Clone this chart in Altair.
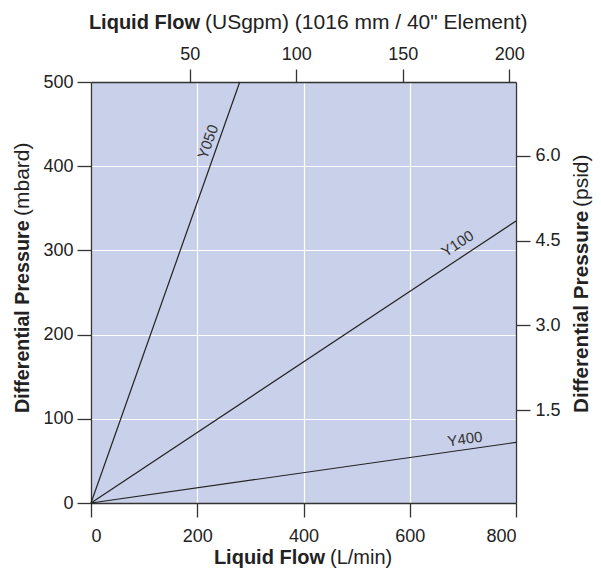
import altair as alt
import pandas as pd

# ---- data ----
series = ["Y050", "Y050", "Y100", "Y100", "Y400", "Y400"]
flow_lmin = [0, 280, 0, 800, 0, 800]
dp_mbar = [0, 500, 0, 335, 0, 72]

label_names = ["Y050", "Y100", "Y400"]
label_x = [220, 690, 704]
label_y = [429, 308, 76]
label_angle = [289.5, 326.4, 351.9]

gpm_ticks = [50, 100, 150, 200]
psid_ticks = [1.5, 3.0, 4.5, 6.0]

FONT = "Liberation Sans"
AX = "#333333"
W, H = 425, 421

lines_df = pd.DataFrame({"series": series, "flow": flow_lmin, "dp": dp_mbar})
labels_df = pd.DataFrame({"name": label_names, "flow": label_x, "dp": label_y, "ang": label_angle})
sec_df = pd.DataFrame({"gpm": gpm_ticks, "psid": psid_ticks})

xs = alt.Scale(domain=[0, 800], nice=False, zero=False)
ys = alt.Scale(domain=[0, 500], nice=False, zero=False)

x_axis = alt.Axis(values=[0, 200, 400, 600, 800], title=None, grid=True, gridColor="white",
                  gridWidth=1.2, tickSize=14, labelPadding=10, orient="bottom")
y_axis = alt.Axis(values=[0, 100, 200, 300, 400, 500], title=None, grid=True, gridColor="white",
                  gridWidth=1.2, tickSize=14, labelPadding=4, orient="left")

lines = alt.Chart(lines_df).mark_line(color="#222222", strokeWidth=1.2).encode(
    x=alt.X("flow:Q", scale=xs, axis=x_axis),
    y=alt.Y("dp:Q", scale=ys, axis=y_axis),
    detail="series:N",
)

labels = alt.Chart(labels_df).mark_text(font=FONT, fontSize=15, color="#333333",
                                        align="center", baseline="middle").encode(
    x=alt.X("flow:Q", scale=xs),
    y=alt.Y("dp:Q", scale=ys),
    text="name:N",
    angle=alt.Angle("ang:Q", scale=None),
)


def txt(s, x, y, bold, align, angle=0, size=20):
    return alt.Chart(pd.DataFrame({"t": [s]})).mark_text(
        font=FONT, fontSize=size, fontWeight="bold" if bold else "normal",
        color="#222222", align=align, baseline="middle", angle=angle,
    ).encode(x=alt.value(x), y=alt.value(y), text="t:N")


titles = [
    txt("Liquid Flow", 109, -59, True, "right", 0, 20),
    txt("(USgpm) (1016 mm / 40\" Element)", 114, -59, False, "left", 0, 21),
    txt("Liquid Flow", 234, 476, True, "right"),
    txt("(L/min)", 239, 476, False, "left"),
    # vertical titles read upward from the bottom
    txt("Differential Pressure", -68, 331, True, "left", 270, 19.7),
    txt("(mbard)", -68, 134, False, "left", 270, 21),
    txt("Differential Pressure", 491, 331, True, "left", 270, 20.7),
    txt("(psid)", 491, 125, False, "left", 270, 21),
]

main = alt.layer(lines, labels, *titles)

secondary = alt.Chart(sec_df).mark_point(opacity=0).encode(
    x=alt.X("gpm:Q", scale=alt.Scale(domain=[3.57, 203.2], nice=False, zero=False),
            axis=alt.Axis(orient="top", values=gpm_ticks, title=None, grid=False,
                          tickSize=13, labelPadding=6)),
    y=alt.Y("psid:Q", scale=alt.Scale(domain=[-0.146, 7.31], nice=False, zero=False),
            axis=alt.Axis(orient="right", values=psid_ticks, format=".1f", title=None,
                          grid=False, tickSize=14, labelPadding=5)),
)

chart = alt.layer(main, secondary).resolve_scale(
    x="independent", y="independent"
).properties(
    width=W, height=H,
    padding={"left": 83, "top": 74, "right": 77, "bottom": 67},
    autosize=alt.AutoSizeParams(type="none"),
).configure_view(
    fill="#c9d0e9", stroke=None
).configure_axis(
    domainColor=AX, tickColor=AX, domainWidth=1.3, tickWidth=1.3,
    labelFont=FONT, labelFontSize=18, labelColor="#222222",
)

chart.save("out.html", embed_options={"renderer": "svg", "actions": False})
